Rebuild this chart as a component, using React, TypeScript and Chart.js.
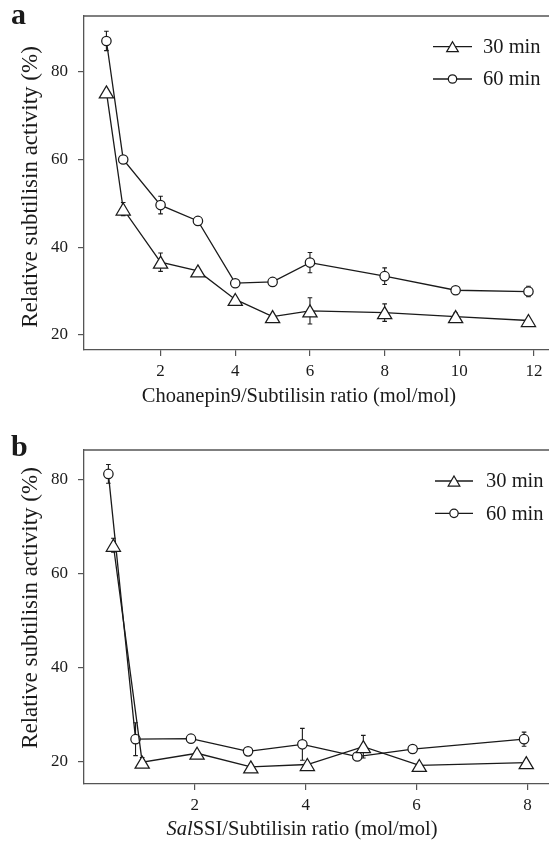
import React, { useEffect, useRef } from "react";
import { Chart, registerables } from "chart.js";

Chart.register(...registerables);

// ---------- Data ----------
// Panel a: Choanepin9 / Subtilisin
const xA = [0.55, 1, 2, 3, 4, 5, 6, 8, 9.9, 11.85];
const act30A = [75.4, 48.7, 36.6, 34.6, 28.1, 24.2, 25.5, 25.1, 24.2, 23.3];
const err30A = [0, 1.5, 2.1, 0, 0, 0, 3, 2, 0.8, 0];
const act60A = [87, 60, 49.6, 46.0, 31.8, 32.1, 36.5, 33.4, 30.2, 29.9];
const err60A = [2.2, 0, 2, 0, 0, 0, 2.3, 1.9, 0.5, 1.2];
const xTicksA = [2, 4, 6, 8, 10, 12];
const yTicksA = [20, 40, 60, 80];

// Panel b: SalSSI / Subtilisin
const x30B = [0.53, 1.05, 2.04, 3.01, 4.03, 5.04, 6.05, 7.98];
const act30B = [66.1, 19.9, 21.8, 18.9, 19.4, 23.2, 19.2, 19.8];
const err30B = [1.5, 1, 0, 0, 0, 2.4, 0, 0];
const x60B = [0.44, 0.93, 1.93, 2.96, 3.94, 4.93, 5.93, 7.94];
const act60B = [81.3, 24.8, 24.9, 22.2, 23.7, 21.1, 22.7, 24.8];
const err60B = [2, 3.5, 0, 0, 3.4, 0, 0, 1.5];
const xTicksB = [2, 4, 6, 8];
const yTicksB = [20, 40, 60, 80];

const seriesLabels = ["30 min", "60 min"];
const yTitleText = "Relative subtilisin activity (%)";
const xTitleA = [{ text: "Choanepin9/Subtilisin ratio (mol/mol)", italic: false }];
const xTitleB = [
  { text: "Sal", italic: true },
  { text: "SSI/Subtilisin ratio (mol/mol)", italic: false },
];

// ---------- Styles ----------
const FONT = "'Liberation Serif', 'Times New Roman', Times, serif";
const INK = "#1a1a1a";
const AXIS = "#555555";
const W = 549;

type Seg = { text: string; italic: boolean };
type Series = { label: string; xs: number[]; ys: number[]; errs: number[]; marker: "triangle" | "circle" };
type Panel = {
  letter: string;
  height: number;
  top: number;
  topPad: number;
  xAxisH: number;
  xMin: number;
  xMax: number;
  xTicks: number[];
  yMin: number;
  yMax: number;
  yTicks: number[];
  xTitle: Seg[];
  series: Series[];
  xTitleCx: number;
  xTitleBase: number;
  yTitleCx: number;
  yTitleCy: number;
  letterX: number;
  letterBase: number;
  legX1: number;
  legX2: number;
  legTextX: number;
  legY: number[];
};

const panels: Panel[] = [
  {
    letter: "a",
    height: 415,
    top: 0,
    topPad: 16,
    xAxisH: 65,
    xMin: -0.05,
    xMax: 12.4,
    xTicks: xTicksA,
    yMin: 16.58,
    yMax: 92.69,
    yTicks: yTicksA,
    xTitle: xTitleA,
    series: [
      { label: seriesLabels[0], xs: xA, ys: act30A, errs: err30A, marker: "triangle" },
      { label: seriesLabels[1], xs: xA, ys: act60A, errs: err60A, marker: "circle" },
    ],
    xTitleCx: 299,
    xTitleBase: 402,
    yTitleCx: 31,
    yTitleCy: 187,
    letterX: 11,
    letterBase: 24,
    legX1: 433,
    legX2: 472,
    legTextX: 483,
    legY: [46.7, 79],
  },
  {
    letter: "b",
    height: 432,
    top: 415,
    topPad: 35,
    xAxisH: 63,
    xMin: 0,
    xMax: 8.39,
    xTicks: xTicksB,
    yMin: 15.25,
    yMax: 86.39,
    yTicks: yTicksB,
    xTitle: xTitleB,
    series: [
      { label: seriesLabels[0], xs: x30B, ys: act30B, errs: err30B, marker: "triangle" },
      { label: seriesLabels[1], xs: x60B, ys: act60B, errs: err60B, marker: "circle" },
    ],
    xTitleCx: 302,
    xTitleBase: 420,
    yTitleCx: 31,
    yTitleCy: 193,
    letterX: 11,
    letterBase: 41,
    legX1: 435,
    legX2: 473,
    legTextX: 486,
    legY: [66, 98.3],
  },
];

function trianglePath(ctx: CanvasRenderingContext2D, x: number, y: number, hw: number, hh: number) {
  ctx.beginPath();
  ctx.moveTo(x, y - hh);
  ctx.lineTo(x + hw, y + hh);
  ctx.lineTo(x - hw, y + hh);
  ctx.closePath();
}

function drawMarker(ctx: CanvasRenderingContext2D, kind: string, x: number, y: number, big: boolean) {
  ctx.save();
  if (kind === "triangle") {
    trianglePath(ctx, x, y, big ? 7.1 : 5.8, big ? 6 : 5);
  } else {
    ctx.beginPath();
    ctx.arc(x, y, big ? 4.7 : 4.2, 0, Math.PI * 2);
  }
  ctx.fillStyle = "#ffffff";
  ctx.fill();
  ctx.lineWidth = 1.25;
  ctx.lineJoin = "miter";
  ctx.strokeStyle = INK;
  ctx.stroke();
  ctx.restore();
}

function decorPlugin(p: Panel) {
  return {
    id: "decor" + p.letter,
    beforeDatasetsDraw(chart: any) {
      const ctx: CanvasRenderingContext2D = chart.ctx;
      const area = chart.chartArea;
      const ys = chart.scales.y;
      // top frame line
      ctx.save();
      ctx.strokeStyle = AXIS;
      ctx.lineWidth = 1.3;
      ctx.beginPath();
      ctx.moveTo(area.left, area.top);
      ctx.lineTo(area.right, area.top);
      ctx.stroke();
      // error bars
      ctx.strokeStyle = INK;
      ctx.lineWidth = 1.1;
      p.series.forEach((s, di) => {
        const meta = chart.getDatasetMeta(di);
        meta.data.forEach((pt: any, i: number) => {
          const e = s.errs[i];
          if (!e) return;
          const x = pt.x;
          const yt = ys.getPixelForValue(s.ys[i] + e);
          const yb = ys.getPixelForValue(s.ys[i] - e);
          ctx.beginPath();
          ctx.moveTo(x, yt);
          ctx.lineTo(x, yb);
          ctx.moveTo(x - 2.3, yt);
          ctx.lineTo(x + 2.3, yt);
          ctx.moveTo(x - 2.3, yb);
          ctx.lineTo(x + 2.3, yb);
          ctx.stroke();
        });
      });
      ctx.restore();
    },
    afterDatasetsDraw(chart: any) {
      // triangle markers, centred on their bounding box at the library-computed point position
      const ctx: CanvasRenderingContext2D = chart.ctx;
      p.series.forEach((s, di) => {
        if (s.marker !== "triangle") return;
        const meta = chart.getDatasetMeta(di);
        meta.data.forEach((pt: any) => drawMarker(ctx, "triangle", pt.x, pt.y, true));
      });
    },
    afterDraw(chart: any) {
      const ctx: CanvasRenderingContext2D = chart.ctx;
      ctx.save();
      ctx.fillStyle = INK;
      // panel letter
      ctx.font = `bold 30px ${FONT}`;
      ctx.textAlign = "left";
      ctx.textBaseline = "alphabetic";
      ctx.fillText(p.letter, p.letterX, p.letterBase);
      // x title (mixed italic)
      const fx = 20.5;
      let total = 0;
      const widths = p.xTitle.map((seg) => {
        ctx.font = `${seg.italic ? "italic " : ""}${fx}px ${FONT}`;
        const w = ctx.measureText(seg.text).width;
        total += w;
        return w;
      });
      let cx = p.xTitleCx - total / 2;
      p.xTitle.forEach((seg, i) => {
        ctx.font = `${seg.italic ? "italic " : ""}${fx}px ${FONT}`;
        ctx.fillText(seg.text, cx, p.xTitleBase);
        cx += widths[i];
      });
      // y title
      ctx.save();
      ctx.translate(p.yTitleCx, p.yTitleCy);
      ctx.rotate(-Math.PI / 2);
      ctx.font = `23px ${FONT}`;
      ctx.textAlign = "center";
      ctx.textBaseline = "middle";
      ctx.fillText(yTitleText, 0, 0);
      ctx.restore();
      // legend
      p.series.forEach((s, i) => {
        const y = p.legY[i];
        ctx.strokeStyle = INK;
        ctx.lineWidth = 1.3;
        ctx.beginPath();
        ctx.moveTo(p.legX1, y);
        ctx.lineTo(p.legX2, y);
        ctx.stroke();
        drawMarker(ctx, s.marker, (p.legX1 + p.legX2) / 2, y, false);
        ctx.fillStyle = INK;
        ctx.font = `20.5px ${FONT}`;
        ctx.textAlign = "left";
        ctx.textBaseline = "middle";
        ctx.fillText(s.label, p.legTextX, y + 1);
      });
      ctx.restore();
    },
  };
}

function buildChart(canvas: HTMLCanvasElement, p: Panel) {
  const tickFont = { family: FONT, size: 17 };
  return new Chart(canvas, {
    type: "line",
    data: {
      datasets: p.series.map((s) => ({
        label: s.label,
        data: s.xs.map((x, i) => ({ x, y: s.ys[i] })),
        borderColor: INK,
        borderWidth: 1.3,
        backgroundColor: "#ffffff",
        fill: false,
        tension: 0,
        pointStyle: "circle",
        pointRadius: s.marker === "triangle" ? 0 : 4.7,
        pointBorderWidth: 1.25,
        pointBorderColor: INK,
        pointBackgroundColor: "#ffffff",
      })),
    },
    options: {
      animation: false,
      responsive: false,
      devicePixelRatio: 1,
      layout: { autoPadding: false, padding: { top: p.topPad, right: 0, left: 0, bottom: 0 } },
      plugins: { legend: { display: false }, tooltip: { enabled: false }, title: { display: false } },
      events: [],
      scales: {
        x: {
          type: "linear",
          min: p.xMin,
          max: p.xMax,
          afterBuildTicks: (s: any) => {
            s.ticks = p.xTicks.map((v) => ({ value: v }));
          },
          afterFit: (s: any) => {
            s.height = p.xAxisH;
            s.paddingLeft = 0;
            s.paddingRight = 0;
          },
          grid: { display: true, drawOnChartArea: false, drawTicks: true, tickLength: 6, color: AXIS, lineWidth: 1.2 },
          border: { display: true, color: AXIS, width: 1.3 },
          ticks: { font: tickFont, color: INK, padding: 5, maxRotation: 0, autoSkip: false },
        },
        y: {
          type: "linear",
          min: p.yMin,
          max: p.yMax,
          afterBuildTicks: (s: any) => {
            s.ticks = p.yTicks.map((v) => ({ value: v }));
          },
          afterFit: (s: any) => {
            s.width = 84;
            s.paddingTop = 0;
            s.paddingBottom = 0;
          },
          grid: { display: true, drawOnChartArea: false, drawTicks: true, tickLength: 6, color: AXIS, lineWidth: 1.2 },
          border: { display: true, color: AXIS, width: 1.3 },
          ticks: { font: tickFont, color: INK, padding: 10, autoSkip: false },
        },
      },
    } as any,
    plugins: [decorPlugin(p)],
  });
}

function PanelChart({ p }: { p: Panel }) {
  const ref = useRef<HTMLCanvasElement | null>(null);
  useEffect(() => {
    if (!ref.current) return;
    const chart = buildChart(ref.current, p);
    return () => chart.destroy();
  }, [p]);
  return (
    <canvas
      ref={ref}
      width={W}
      height={p.height}
      style={{ position: "absolute", left: 0, top: p.top, width: W, height: p.height, display: "block" }}
    />
  );
}

export default function App() {
  return (
    <div style={{ position: "absolute", left: 0, top: 0, width: W, height: 847, background: "#ffffff" }}>
      {panels.map((p) => (
        <PanelChart key={p.letter} p={p} />
      ))}
    </div>
  );
}
